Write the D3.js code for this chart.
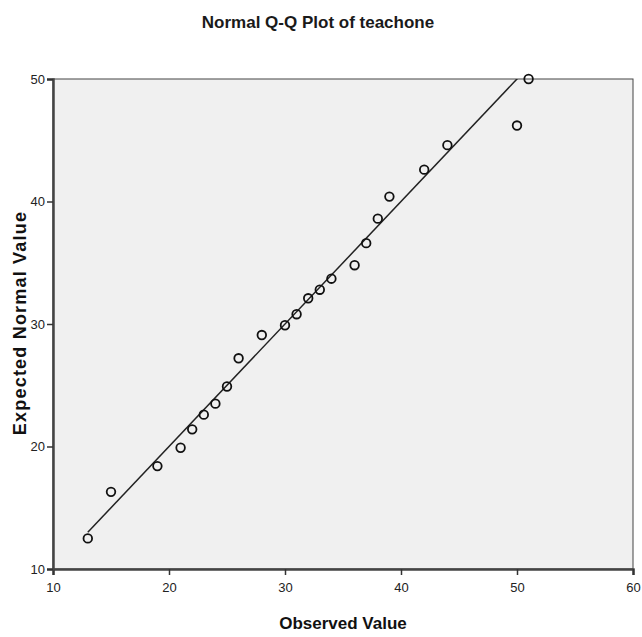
<!DOCTYPE html>
<html>
<head>
<meta charset="utf-8">
<script src="https://cdn.jsdelivr.net/npm/d3@7"></script>
<style>
  html, body { margin: 0; padding: 0; background: #fff; }
  svg { display: block; }
</style>
</head>
<body>
<svg id="chart" width="642" height="637"></svg>
<script>
// Observed scores and their expected normal quantiles
const observed = [13, 15, 19, 21, 22, 23, 24, 25, 26, 28, 30, 31, 32, 33, 34, 36, 37, 38, 39, 42, 44, 50, 51];
const expected = [12.5, 16.3, 18.4, 19.9, 21.4, 22.6, 23.5, 24.9, 27.2, 29.1, 29.9, 30.8, 32.1, 32.8, 33.7, 34.8, 36.6, 38.6, 40.4, 42.6, 44.6, 46.2, 50.0];
const xTicks = [10, 20, 30, 40, 50, 60];
const yTicks = [10, 20, 30, 40, 50];
// Reference line: expected = observed
const refLine = [13, 51];

(function () {
  const svg = d3.select("#chart");
  const plotLeft = 53, plotRight = 633, plotTop = 79, plotBottom = 569;

  const x = d3.scaleLinear().domain([10, 60]).range([plotLeft, plotRight]);
  const y = d3.scaleLinear().domain([10, 50]).range([plotBottom, plotTop]);

  const font = "'Liberation Sans', Arial, sans-serif";

  // Title
  svg.append("text")
    .attr("x", 318).attr("y", 28)
    .attr("text-anchor", "middle")
    .attr("font-family", font)
    .attr("font-size", 17)
    .attr("font-weight", "bold")
    .attr("fill", "#1a1a1a")
    .text("Normal Q-Q Plot of teachone");

  // Plot background
  svg.append("rect")
    .attr("x", plotLeft).attr("y", plotTop)
    .attr("width", plotRight - plotLeft).attr("height", plotBottom - plotTop)
    .attr("fill", "#f0f0f0")
    .attr("stroke", "#444").attr("stroke-width", 1);

  svg.append("defs").append("clipPath").attr("id", "plotclip")
    .append("rect")
    .attr("x", plotLeft).attr("y", plotTop)
    .attr("width", plotRight - plotLeft).attr("height", plotBottom - plotTop);

  // Axes
  const xAxis = svg.append("g")
    .attr("transform", `translate(0,${plotBottom})`)
    .call(d3.axisBottom(x).tickValues(xTicks).tickSize(6).tickPadding(8).tickFormat(d3.format("d")));
  const yAxis = svg.append("g")
    .attr("transform", `translate(${plotLeft},0)`)
    .call(d3.axisLeft(y).tickValues(yTicks).tickSize(6).tickPadding(2).tickFormat(d3.format("d")));

  [xAxis, yAxis].forEach(g => {
    g.select(".domain").attr("stroke", "#444").attr("stroke-width", 2.5);
    g.selectAll(".tick line").attr("stroke", "#333").attr("stroke-width", 1.5);
    g.selectAll(".tick text")
      .attr("font-family", font)
      .attr("font-size", 13)
      .attr("fill", "#222");
  });

  // Reference line
  svg.append("line")
    .attr("clip-path", "url(#plotclip)")
    .attr("x1", x(refLine[0])).attr("y1", y(refLine[0]))
    .attr("x2", x(refLine[1])).attr("y2", y(refLine[1]))
    .attr("stroke", "#222").attr("stroke-width", 1.5);

  // Points
  svg.append("g")
    .selectAll("circle")
    .data(observed.map((d, i) => [d, expected[i]]))
    .join("circle")
    .attr("cx", d => x(d[0]))
    .attr("cy", d => y(d[1]))
    .attr("r", 4.3)
    .attr("fill", "none")
    .attr("stroke", "#111")
    .attr("stroke-width", 1.8);

  // Axis titles
  svg.append("text")
    .attr("x", 343).attr("y", 629)
    .attr("text-anchor", "middle")
    .attr("font-family", font)
    .attr("font-size", 17)
    .attr("font-weight", "bold")
    .attr("fill", "#111")
    .text("Observed Value");

  svg.append("text")
    .attr("transform", "translate(26,323) rotate(-90)")
    .attr("text-anchor", "middle")
    .attr("font-family", font)
    .attr("font-size", 18)
    .attr("font-weight", "bold")
    .attr("letter-spacing", 1.2)
    .attr("fill", "#111")
    .text("Expected Normal Value");
})();
</script>
</body>
</html>
